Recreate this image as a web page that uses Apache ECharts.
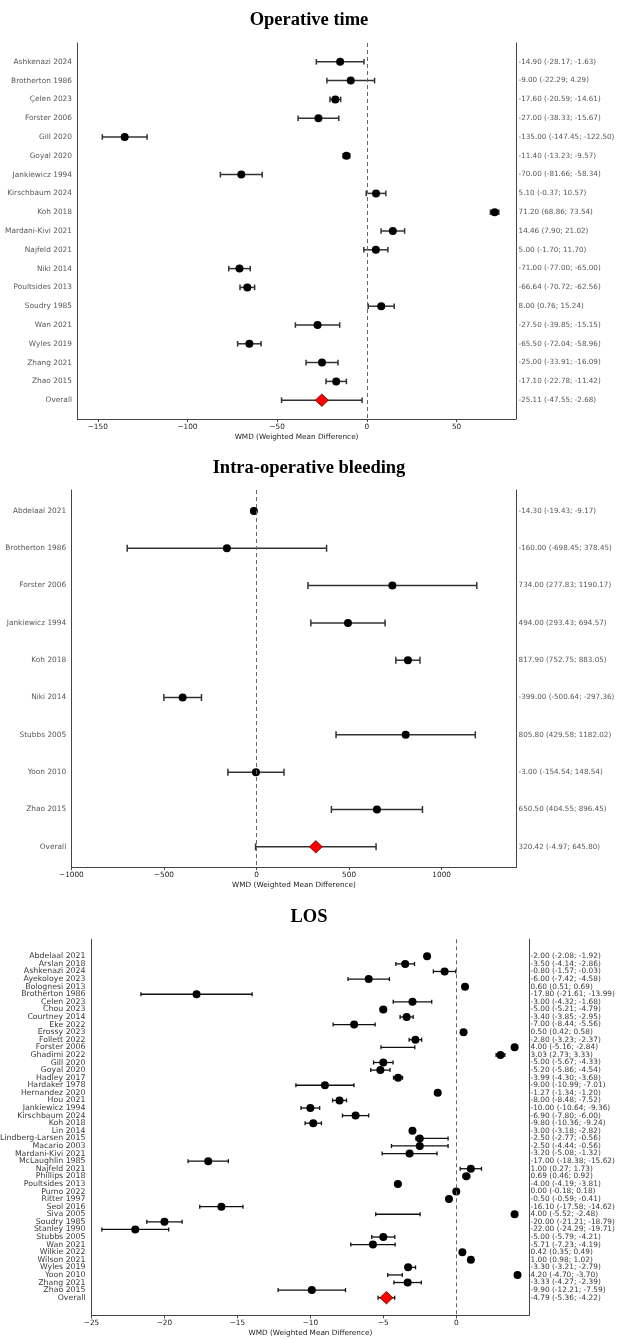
<!DOCTYPE html>
<html>
<head>
<meta charset="utf-8">
<script src="https://cdn.jsdelivr.net/npm/echarts@6/dist/echarts.min.js"></script>
<style>
  html, body { margin: 0; padding: 0; background: #fff; }
  #chart { width: 618px; height: 1339px; }
</style>
</head>
<body>
<div id="chart"></div>
<script>
  // Operative time
  const opNames = ['Ashkenazi 2024', 'Brotherton 1986', 'Çelen 2023', 'Forster 2006', 'Gill 2020', 'Goyal 2020',
    'Jankiewicz 1994', 'Kirschbaum 2024', 'Koh 2018', 'Mardani-Kivi 2021', 'Najfeld 2021', 'Niki 2014',
    'Poultsides 2013', 'Soudry 1985', 'Wan 2021', 'Wyles 2019', 'Zhang 2021', 'Zhao 2015', 'Overall']
  const opEst = [-14.90, -9.00, -17.60, -27.00, -135.00, -11.40, -70.00, 5.10, 71.20, 14.46, 5.00, -71.00,
    -66.64, 8.00, -27.50, -65.50, -25.00, -17.10, -25.11]
  const opLow = [-28.17, -22.29, -20.59, -38.33, -147.45, -13.23, -81.66, -0.37, 68.86, 7.90, -1.70, -77.00,
    -70.72, 0.76, -39.85, -72.04, -33.91, -22.78, -47.55]
  const opHigh = [-1.63, 4.29, -14.61, -15.67, -122.50, -9.57, -58.34, 10.57, 73.54, 21.02, 11.70, -65.00,
    -62.56, 15.24, -15.15, -58.96, -16.09, -11.42, -2.68]

  // Intra-operative bleeding
  const blNames = ['Abdelaal 2021', 'Brotherton 1986', 'Forster 2006', 'Jankiewicz 1994', 'Koh 2018', 'Niki 2014',
    'Stubbs 2005', 'Yoon 2010', 'Zhao 2015', 'Overall']
  const blEst = [-14.30, -160.00, 734.00, 494.00, 817.90, -399.00, 805.80, -3.00, 650.50, 320.42]
  const blLow = [-19.43, -698.45, 277.83, 293.43, 752.75, -500.64, 429.58, -154.54, 404.55, -4.97]
  const blHigh = [-9.17, 378.45, 1190.17, 694.57, 883.05, -297.36, 1182.02, 148.54, 896.45, 645.80]

  // LOS
  const losNames = ['Abdelaal 2021', 'Arslan 2018', 'Ashkenazi 2024', 'Ayekoloye 2023', 'Bolognesi 2013',
    'Brotherton 1986', 'Çelen 2023', 'Chou 2023', 'Courtney 2014', 'Eke 2022', 'Erossy 2023', 'Follett 2022',
    'Forster 2006', 'Ghadimi 2022', 'Gill 2020', 'Goyal 2020', 'Hadley 2017', 'Hardaker 1978', 'Hernandez 2020',
    'Hou 2021', 'Jankiewicz 1994', 'Kirschbaum 2024', 'Koh 2018', 'Lin 2014', 'Lindberg-Larsen 2015',
    'Macario 2003', 'Mardani-Kivi 2021', 'McLaughlin 1985', 'Najfeld 2021', 'Phillips 2018', 'Poultsides 2013',
    'Pumo 2022', 'Ritter 1997', 'Seol 2016', 'Siva 2005', 'Soudry 1985', 'Stanley 1990', 'Stubbs 2005',
    'Wan 2021', 'Wilkie 2022', 'Wilson 2021', 'Wyles 2019', 'Yoon 2010', 'Zhang 2021', 'Zhao 2015', 'Overall']
  const losEst = [-2.00, -3.50, -0.80, -6.00, 0.60, -17.80, -3.00, -5.00, -3.40, -7.00, 0.50, -2.80,
    4.00, 3.03, -5.00, -5.20, -3.99, -9.00, -1.27, -8.00, -10.00, -6.90, -9.80, -3.00, -2.50,
    -2.50, -3.20, -17.00, 1.00, 0.69, -4.00, 0.00, -0.50, -16.10, 4.00, -20.00, -22.00, -5.00,
    -5.71, 0.42, 1.00, -3.30, 4.20, -3.33, -9.90, -4.79]
  const losLow = [-2.08, -4.14, -1.57, -7.42, 0.51, -21.61, -4.32, -5.21, -3.85, -8.44, 0.42, -3.23,
    -5.16, 2.73, -5.67, -5.86, -4.30, -10.99, -1.34, -8.48, -10.64, -7.80, -10.36, -3.18, -2.77,
    -4.44, -5.08, -18.38, 0.27, 0.46, -4.19, -0.18, -0.59, -17.58, -5.52, -21.21, -24.29, -5.79,
    -7.23, 0.35, 0.98, -3.21, -4.70, -4.27, -12.21, -5.36]
  const losHigh = [-1.92, -2.86, -0.03, -4.58, 0.69, -13.99, -1.68, -4.79, -2.95, -5.56, 0.58, -2.37,
    -2.84, 3.33, -4.33, -4.54, -3.68, -7.01, -1.20, -7.52, -9.36, -6.00, -9.24, -2.82, -0.56,
    -0.56, -1.32, -15.62, 1.73, 0.92, -3.81, 0.18, -0.41, -14.62, -2.48, -18.79, -19.71, -4.21,
    -4.19, 0.49, 1.02, -2.79, -3.70, -2.39, -7.59, -4.22]

  const titles = ['Operative time', 'Intra-operative bleeding', 'LOS']
  const xLabel = 'WMD (Weighted Mean Difference)'

  const FONT = 'DejaVu Sans'
  const chart = echarts.init(document.getElementById('chart'), null, { renderer: 'canvas' })

  const panels = [
    { names: opNames, est: opEst, low: opLow, high: opHigh,
      grid: { left: 77.3, right: 102.2, top: 43, height: 376 },
      xMin: -161.4, xMax: 83, xSplit: 5, yMin: -1, yMax: 19,
      titleY: 21.7, cap: 2.8, lw: 1.5, nameSize: 7.4, ciSize: 7.2, nameGap: 5.3, ciGap: 2.8 },
    { names: blNames, est: blEst, low: blLow, high: blHigh,
      grid: { left: 71.4, right: 101.4, top: 490, height: 377 },
      xMin: -1000, xMax: 1405, xInterval: 500, yMin: -0.56, yMax: 9.54,
      titleY: 469, cap: 3.5, lw: 1.5, nameSize: 7.4, ciSize: 7.2, nameGap: 5.2, ciGap: 2 },
    { names: losNames, est: losEst, low: losLow, high: losHigh,
      grid: { left: 91.5, right: 88.8, top: 939.3, height: 376 },
      xMin: -25, xMax: 5, xInterval: 5, yMin: -2.24, yMax: 47.32,
      titleY: 918, cap: 2, lw: 1.3, nameSize: 7.8, ciSize: 7.4, nameGap: 6, ciGap: 1.3, dark: true },
  ]

  const fmt = (v) => v.toFixed(2)
  const minus = (v) => String(v).replace('-', '\u2212')

  const option = {
    animation: false,
    backgroundColor: '#fff',
    textStyle: { fontFamily: FONT },
    title: [],
    grid: [],
    xAxis: [],
    yAxis: [],
    series: [],
  }

  panels.forEach((p, i) => {
    const n = p.names.length
    option.title.push({
      text: titles[i],
      left: 'center',
      top: p.titleY - 10.5,
      padding: 0,
      textStyle: { fontFamily: 'Liberation Serif', fontWeight: 'bold', fontSize: 18.5, color: '#000' },
    })
    option.grid.push(Object.assign({ containLabel: false }, p.grid))
    const xa = {
      type: 'value',
      gridIndex: i,
      min: p.xMin,
      max: p.xMax,
      splitLine: { show: false },
      axisLine: { show: true, onZero: false, lineStyle: { color: '#444', width: 1 } },
      axisTick: { show: true, length: 3, lineStyle: { color: '#444' } },
      axisLabel: {
        fontSize: 7.3, color: '#222', margin: 4.5, showMinLabel: i !== 0, showMaxLabel: false,
        formatter: (v) => (Math.abs(v % 50) < 1e-6 || i !== 0 ? minus(v) : ''),
      },
      name: xLabel,
      nameLocation: 'middle',
      nameGap: 14.5,
      nameTextStyle: { fontSize: 7.3, color: '#222' },
    }
    if (p.xInterval) xa.interval = p.xInterval
    else xa.splitNumber = p.xSplit
    option.xAxis.push(xa)
    const ya = {
      type: 'value', gridIndex: i, min: p.yMin, max: p.yMax, inverse: true,
      splitLine: { show: false }, axisTick: { show: false }, axisLabel: { show: false },
      axisLine: { show: true, onZero: false, lineStyle: { color: '#444', width: 1 } },
    }
    option.yAxis.push(Object.assign({ position: 'left' }, ya))
    option.yAxis.push(Object.assign({ position: 'right' }, ya))
    const yIdx = i * 2
    const lineColor = p.dark ? '#111' : '#333'
    const textColor = p.dark ? '#000' : '#2a2a2a'

    // confidence intervals
    option.series.push({
      type: 'custom',
      xAxisIndex: i,
      yAxisIndex: yIdx,
      data: p.names.map((_, k) => [p.low[k], p.high[k], k]),
      encode: { x: [0, 1], y: 2 },
      renderItem: (params, api) => {
        const y = api.value(2)
        const a = api.coord([api.value(0), y])
        const b = api.coord([api.value(1), y])
        const st = { stroke: lineColor, lineWidth: p.lw }
        return {
          type: 'group',
          children: [
            { type: 'line', shape: { x1: a[0], y1: a[1], x2: b[0], y2: b[1] }, style: st },
            { type: 'line', shape: { x1: a[0], y1: a[1] - p.cap, x2: a[0], y2: a[1] + p.cap }, style: st },
            { type: 'line', shape: { x1: b[0], y1: b[1] - p.cap, x2: b[0], y2: b[1] + p.cap }, style: st },
          ],
        }
      },
      z: 2,
    })
    // study estimates
    option.series.push({
      type: 'scatter',
      xAxisIndex: i,
      yAxisIndex: yIdx,
      data: p.est.slice(0, n - 1).map((v, k) => [v, k]),
      symbol: 'circle',
      symbolSize: 8,
      itemStyle: { color: '#000', opacity: 1 },
      z: 4,
      markLine: {
        silent: true,
        symbol: 'none',
        label: { show: false },
        lineStyle: { color: '#666', width: 1, type: [4, 3] },
        data: [{ xAxis: 0 }],
      },
    })
    // overall
    option.series.push({
      type: 'scatter',
      xAxisIndex: i,
      yAxisIndex: yIdx,
      data: [[p.est[n - 1], n - 1]],
      symbol: 'diamond',
      symbolSize: [13, 12.5],
      itemStyle: { color: '#ff0000', borderColor: '#6a0000', borderWidth: 0.8, opacity: 1 },
      z: 5,
    })
    // study names on the left
    option.series.push({
      type: 'scatter',
      xAxisIndex: i,
      yAxisIndex: yIdx,
      data: p.names.map((nm, k) => ({ value: [p.xMin, k], name: nm })),
      symbolSize: 0,
      clip: false,
      label: {
        show: true, position: 'left', distance: p.nameGap, formatter: (d) => d.name,
        fontSize: p.nameSize, color: textColor, fontFamily: FONT,
      },
      silent: true,
    })
    // effect sizes on the right
    option.series.push({
      type: 'scatter',
      xAxisIndex: i,
      yAxisIndex: yIdx,
      data: p.names.map((_, k) => ({
        value: [p.xMax, k],
        name: fmt(p.est[k]) + ' (' + fmt(p.low[k]) + '; ' + fmt(p.high[k]) + ')',
      })),
      symbolSize: 0,
      clip: false,
      label: {
        show: true, position: 'right', distance: p.ciGap, formatter: (d) => d.name,
        fontSize: p.ciSize, color: textColor, fontFamily: FONT,
      },
      silent: true,
    })
  })

  chart.setOption(option)
</script>
</body>
</html>
